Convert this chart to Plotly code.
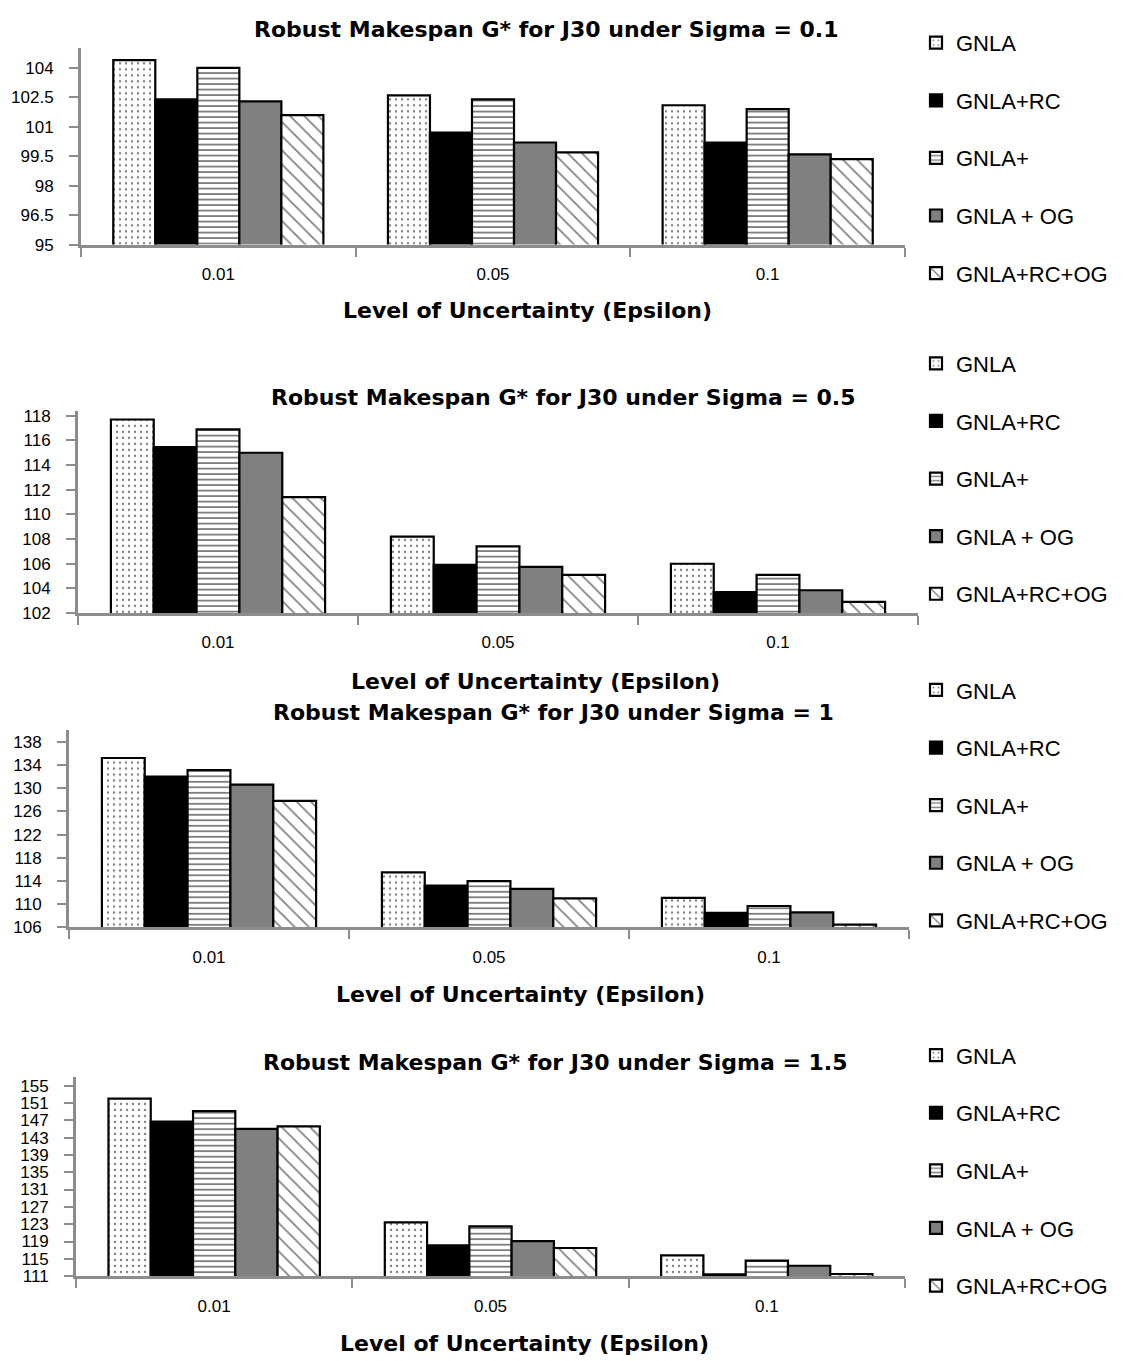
import plotly.graph_objects as go

# ---------------- data ----------------
categories = ["0.01", "0.05", "0.1"]
series_names = ["GNLA", "GNLA+RC", "GNLA+", "GNLA + OG", "GNLA+RC+OG"]

titles = [
    "Robust Makespan G* for J30 under Sigma = 0.1",
    "Robust Makespan G* for J30 under Sigma = 0.5",
    "Robust Makespan G* for J30 under Sigma = 1",
    "Robust Makespan G* for J30 under Sigma = 1.5",
]
x_title = "Level of Uncertainty (Epsilon)"

# Sigma = 0.1
s01_gnla = [104.4, 102.6, 102.1]
s01_rc = [102.4, 100.7, 100.2]
s01_plus = [104.0, 102.4, 101.9]
s01_og = [102.3, 100.2, 99.6]
s01_rcog = [101.6, 99.7, 99.35]

# Sigma = 0.5
s05_gnla = [117.7, 108.2, 106.0]
s05_rc = [115.45, 105.9, 103.7]
s05_plus = [116.9, 107.4, 105.1]
s05_og = [115.0, 105.75, 103.85]
s05_rcog = [111.4, 105.1, 102.9]

# Sigma = 1
s1_gnla = [135.2, 115.5, 111.1]
s1_rc = [132.0, 113.2, 108.5]
s1_plus = [133.1, 114.0, 109.7]
s1_og = [130.6, 112.65, 108.6]
s1_rcog = [127.8, 111.0, 106.5]

# Sigma = 1.5
s15_gnla = [152.0, 123.4, 115.8]
s15_rc = [146.7, 118.1, 111.4]
s15_plus = [149.1, 122.5, 114.6]
s15_og = [145.0, 119.1, 113.4]
s15_rcog = [145.6, 117.5, 111.5]

ticks01 = ["95", "96.5", "98", "99.5", "101", "102.5", "104"]
ticks05 = ["102", "104", "106", "108", "110", "112", "114", "116", "118"]
ticks1 = ["106", "110", "114", "118", "122", "126", "130", "134", "138"]
ticks15 = ["111", "115", "119", "123", "127", "131", "135", "139", "143", "147", "151", "155"]

panels = [
    [s01_gnla, s01_rc, s01_plus, s01_og, s01_rcog],
    [s05_gnla, s05_rc, s05_plus, s05_og, s05_rcog],
    [s1_gnla, s1_rc, s1_plus, s1_og, s1_rcog],
    [s15_gnla, s15_rc, s15_plus, s15_og, s15_rcog],
]
panel_ticks = [ticks01, ticks05, ticks1, ticks15]
panel_ranges = [[95, 105], [102, 118.4], [106, 140.1], [111, 157]]

# ---------------- layout geometry (pixels) ----------------
W, H = 1133, 1361
plot_x = [(73, 897), (70, 910), (61, 901), (68, 897)]
plot_y = [(36.7, 235), (403, 607.3), (725, 925), (1076, 1277.3)]
title_pos = [(538, 18), (555, 390), (545, 708), (547, 1061)]
xtitle_pos = [(519, 302), (527, 676), (512, 993), (516, 1345)]
legend_top = [10, 334, 664, 1033]

def px(x):
    return x / W

def py(y):
    return 1 - y / H

styles = [
    dict(color="white", pattern=dict(shape=".", fgcolor="black", bgcolor="white", size=6, solidity=0.12)),
    dict(color="black"),
    dict(color="white", pattern=dict(shape="-", fgcolor="black", bgcolor="white", size=5.5, solidity=0.33)),
    dict(color="#808080"),
    dict(color="white", pattern=dict(shape="\\", fgcolor="black", bgcolor="white", size=10, solidity=0.17)),
]

fig = go.Figure()
TICKFONT = dict(family="Liberation Sans, Arial, sans-serif", size=17, color="black")
TITLEFONT = dict(family="DejaVu Sans, sans-serif", size=22, color="black", weight="bold")

for i, series in enumerate(panels):
    suffix = "" if i == 0 else str(i + 1)
    leg = "legend" if i == 0 else f"legend{i + 1}"
    for j, vals in enumerate(series):
        fig.add_trace(go.Bar(
            x=categories, y=vals, name=series_names[j],
            xaxis="x" + suffix, yaxis="y" + suffix,
            marker=dict(line=dict(color="black", width=2.2), **styles[j]),
            legend=leg, legendgroup=f"p{i}_{j}",
        ))
    tv = [float(t) for t in panel_ticks[i]]
    fig.layout["xaxis" + suffix] = dict(
        domain=[px(plot_x[i][0]), px(plot_x[i][1])],
        anchor="y" + suffix, type="category",
        showline=True, linecolor="#8c8c8c", linewidth=3,
        ticks="outside", tickson="boundaries", ticklen=9, tickwidth=2, tickcolor="#8c8c8c",
        tickfont=TICKFONT, ticklabelstandoff=12, showgrid=False, zeroline=False,
    )
    fig.layout["yaxis" + suffix] = dict(
        domain=[py(plot_y[i][1]), py(plot_y[i][0])],
        anchor="x" + suffix, range=panel_ranges[i],
        tickvals=tv, ticktext=panel_ticks[i],
        showline=True, linecolor="#8c8c8c", linewidth=3,
        ticks="outside", ticklen=9, tickwidth=2, tickcolor="#8c8c8c",
        tickfont=TICKFONT, ticklabelstandoff=12, showgrid=False, zeroline=False,
    )
    fig.layout[leg] = dict(
        x=px(908), y=py(legend_top[i]), xanchor="left", yanchor="top",
        font=dict(family="Liberation Sans, Arial, sans-serif", size=22, color="black"),
        tracegroupgap=26, traceorder="grouped", bgcolor="rgba(0,0,0,0)",
    )
    fig.add_annotation(text=titles[i], x=px(title_pos[i][0]), y=py(title_pos[i][1]),
                       xref="paper", yref="paper", showarrow=False, font=TITLEFONT,
                       xanchor="center", yanchor="middle")
    fig.add_annotation(text=x_title, x=px(xtitle_pos[i][0]), y=py(xtitle_pos[i][1]),
                       xref="paper", yref="paper", showarrow=False, font=TITLEFONT,
                       xanchor="center", yanchor="middle")

fig.update_layout(
    width=W, height=H, autosize=False,
    margin=dict(l=0, r=0, t=0, b=0),
    paper_bgcolor="white", plot_bgcolor="white",
    barmode="group", bargap=0.235, bargroupgap=0,
    showlegend=True,
)

fig.write_html("out.html")
